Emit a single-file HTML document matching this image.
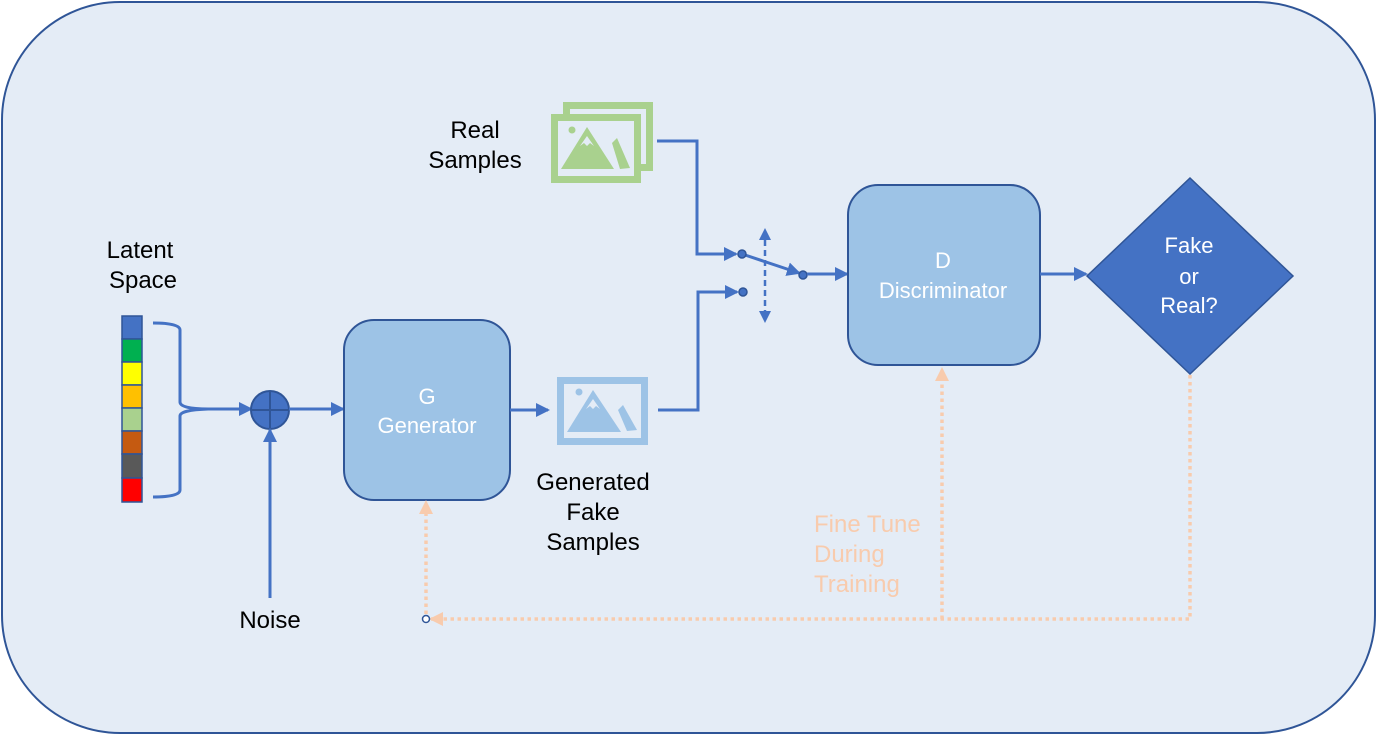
<!DOCTYPE html>
<html><head><meta charset="utf-8"><style>
html,body{margin:0;padding:0;background:#fff;}
svg{display:block;}
text{font-family:"Liberation Sans",sans-serif;}
</style></head><body>
<svg width="1377" height="735" viewBox="0 0 1377 735" xmlns="http://www.w3.org/2000/svg">
<defs>
<marker id="ao" markerWidth="14" markerHeight="14" refX="12" refY="7" orient="auto" markerUnits="userSpaceOnUse"><path d="M0,0 L14,7 L0,14 z" fill="#f8cbad"/></marker>
<marker id="ab2" markerWidth="14" markerHeight="14" refX="12" refY="7" orient="auto" markerUnits="userSpaceOnUse"><path d="M0,0 L14,7 L0,14 z" fill="#4472c4"/></marker>
</defs>
<rect x="2" y="2" width="1373" height="731" rx="118" ry="118" fill="#e4ecf6" stroke="#2f5597" stroke-width="2"/>

<g stroke="#2f5597" stroke-width="1.5">
<rect x="122" y="316" width="20" height="23" fill="#4472c4"/>
<rect x="122" y="339" width="20" height="23" fill="#00b050"/>
<rect x="122" y="362" width="20" height="23" fill="#ffff00"/>
<rect x="122" y="385" width="20" height="23" fill="#ffc000"/>
<rect x="122" y="408" width="20" height="23" fill="#a9d18e"/>
<rect x="122" y="431" width="20" height="23" fill="#c55a11"/>
<rect x="122" y="454" width="20" height="24" fill="#595959"/>
<rect x="122" y="478" width="20" height="24" fill="#ff0000"/>
</g>
<path d="M153,323 Q180,323 180,330 L180,402 Q180,409 208,409 M180,416 Q180,410 208,409 M180,416 L180,490 Q180,497 153,497" fill="none" stroke="#4472c4" stroke-width="3"/>
<line x1="208" y1="409" x2="251" y2="409" stroke="#4472c4" stroke-width="3" marker-end="url(#ab2)"/>
<circle cx="270" cy="410" r="19" fill="#4472c4" stroke="#2f5597" stroke-width="2"/>
<line x1="251" y1="410" x2="289" y2="410" stroke="#2f5597" stroke-width="2"/>
<line x1="270" y1="391" x2="270" y2="429" stroke="#2f5597" stroke-width="2"/>
<line x1="270" y1="598" x2="270" y2="430" stroke="#4472c4" stroke-width="3" marker-end="url(#ab2)"/>
<line x1="289" y1="409" x2="343" y2="409" stroke="#4472c4" stroke-width="3" marker-end="url(#ab2)"/>

<rect x="344" y="320" width="166" height="180" rx="30" fill="#9dc3e6" stroke="#2f5597" stroke-width="2"/>
<text x="427" y="404" font-size="22" fill="#fff" text-anchor="middle">G</text>
<text x="427" y="433" font-size="22" fill="#fff" text-anchor="middle">Generator</text>
<line x1="510" y1="410" x2="548" y2="410" stroke="#4472c4" stroke-width="3" marker-end="url(#ab2)"/>

<rect x="560.5" y="380.5" width="84" height="61" fill="none" stroke="#9dc3e6" stroke-width="7"/>
<circle cx="579" cy="392" r="3.5" fill="#9dc3e6"/>
<path d="M593,390 L621,432 L567,432 z" fill="#9dc3e6"/>
<path d="M586,409 L593,399 L600,409 L596,406 L593,409 L590,406 z" fill="#e4ecf6"/>
<path d="M618,410 L623,405 L637,430 L627,431 z" fill="#9dc3e6"/>
<path d="M658,410 L698,410 L698,292 L737,292" fill="none" stroke="#4472c4" stroke-width="3" marker-end="url(#ab2)"/>

<rect x="566.5" y="105.5" width="83" height="62" fill="none" stroke="#a9d18e" stroke-width="7"/>
<rect x="554.5" y="117.5" width="83" height="62" fill="#e4ecf6" stroke="#a9d18e" stroke-width="7"/>
<circle cx="572" cy="130" r="3.5" fill="#a9d18e"/>
<path d="M587,127 L614,169 L561,169 z" fill="#a9d18e"/>
<path d="M580,146 L587,136 L594,146 L590,143 L587,146 L584,143 z" fill="#e4ecf6"/>
<path d="M612,143 L617,138 L630,168 L620,169 z" fill="#a9d18e"/>
<path d="M657,141 L697,141 L697,254 L736,254" fill="none" stroke="#4472c4" stroke-width="3" marker-end="url(#ab2)"/>

<line x1="742" y1="254" x2="799" y2="273" stroke="#4472c4" stroke-width="3" marker-end="url(#ab2)"/>
<line x1="765" y1="240" x2="765" y2="312" stroke="#4472c4" stroke-width="2.5" stroke-dasharray="6,4"/>
<path d="M765,228 L759,240 L771,240 z M765,323 L759,311 L771,311 z" fill="#4472c4"/>
<circle cx="742" cy="254" r="4" fill="#4472c4" stroke="#2f5597" stroke-width="1.5"/>
<circle cx="743" cy="292" r="4" fill="#4472c4" stroke="#2f5597" stroke-width="1.5"/>
<circle cx="803" cy="275" r="4" fill="#4472c4" stroke="#2f5597" stroke-width="1.5"/>
<line x1="807" y1="274" x2="847" y2="274" stroke="#4472c4" stroke-width="3" marker-end="url(#ab2)"/>

<rect x="848" y="185" width="192" height="180" rx="30" fill="#9dc3e6" stroke="#2f5597" stroke-width="2"/>
<text x="943" y="268" font-size="22" fill="#fff" text-anchor="middle">D</text>
<text x="943" y="298" font-size="22" fill="#fff" text-anchor="middle">Discriminator</text>
<line x1="1040" y1="274" x2="1086" y2="274" stroke="#4472c4" stroke-width="3" marker-end="url(#ab2)"/>
<path d="M1190,178 L1293,276 L1190,374 L1087,276 z" fill="#4472c4" stroke="#2f5597" stroke-width="1.5"/>
<text x="1189" y="253" font-size="22" fill="#fff" text-anchor="middle">Fake</text>
<text x="1189" y="284" font-size="22" fill="#fff" text-anchor="middle">or</text>
<text x="1189" y="313" font-size="22" fill="#fff" text-anchor="middle">Real?</text>

<g fill="none" stroke="#f8cbad" stroke-width="3.5" stroke-dasharray="3.5,3.5">
<path d="M1190,375 L1190,619 L431,619" marker-end="url(#ao)"/>
<path d="M942,619 L942,369" marker-end="url(#ao)"/>
<path d="M426,614 L426,502" marker-end="url(#ao)"/>
</g>
<circle cx="426" cy="619" r="3.5" fill="#fff" stroke="#2f5597" stroke-width="1.5"/>

<g font-size="24" fill="#000" text-anchor="middle">
<text x="140" y="258">Latent</text>
<text x="143" y="288">Space</text>
<text x="475" y="138">Real</text>
<text x="475" y="168">Samples</text>
<text x="593" y="490">Generated</text>
<text x="593" y="520">Fake</text>
<text x="593" y="550">Samples</text>
<text x="270" y="628">Noise</text>
</g>
<g font-size="24" fill="#f8cbad">
<text x="814" y="532">Fine Tune</text>
<text x="814" y="562">During</text>
<text x="814" y="592">Training</text>
</g>
</svg>
</body></html>
